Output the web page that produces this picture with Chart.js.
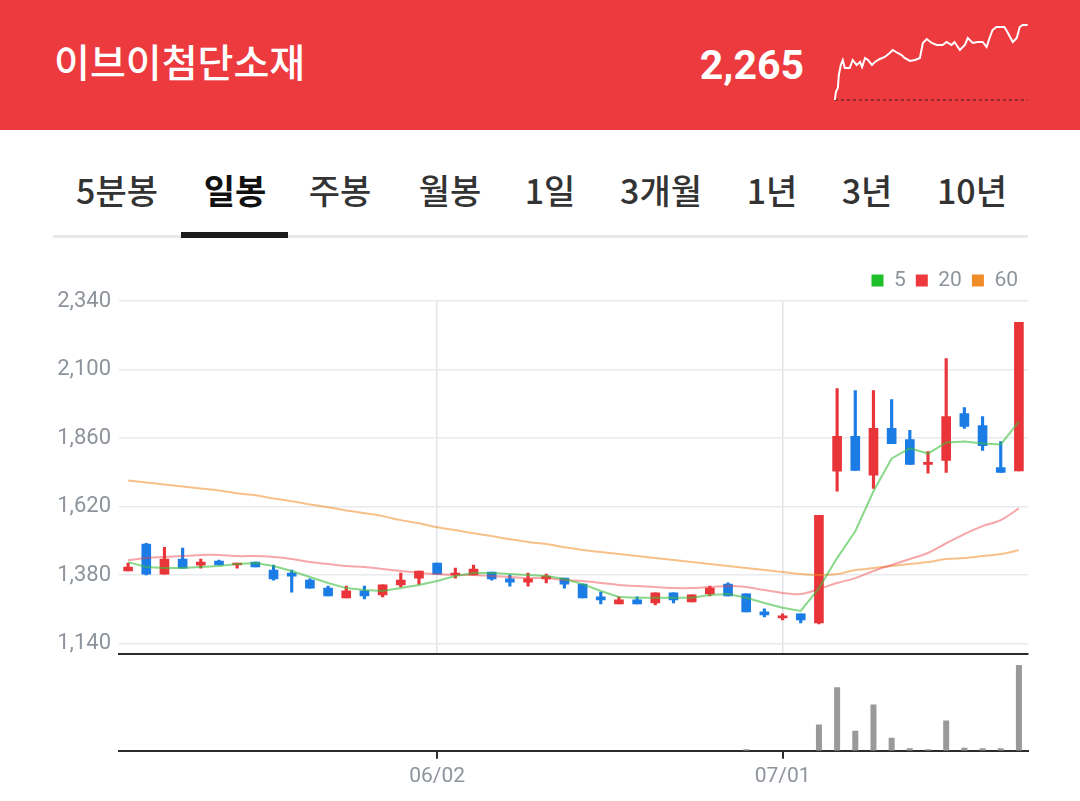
<!DOCTYPE html>
<html lang="ko">
<head>
  <meta charset="UTF-8" />
  <title>이브이첨단소재 일봉</title>
  <style>
    body {
      margin: 0;
      width: 1080px;
      height: 801px;
      background: #fff;
      font-family: "Noto Sans CJK KR", "Noto Sans", sans-serif;
      overflow: hidden;
      position: relative;
    }
    #header {
      position: absolute;
      left: 0; top: 0;
      width: 1080px; height: 130px;
      background: #ec3a3e;
    }
    #name {
      position: absolute;
      left: 54px; top: 60px;
      transform: translateY(-50%);
      color: #fff;
      font-size: 39px;
      font-weight: 500;
    }
    #price {
      position: absolute;
      right: 276px; top: 65px;
      transform: translateY(-50%);
      color: #fff;
      font-family: Roboto, sans-serif;
      font-size: 41px;
      font-weight: 700;
    }
    #sparkBox {
      position: absolute;
      left: 825px; top: 15px;
      width: 213px; height: 95px;
    }
    .tab {
      position: absolute;
      top: 189px;
      transform: translate(-50%, -50%);
      font-size: 34px;
      font-weight: 500;
      color: #333;
      white-space: nowrap;
    }
    .tab.on { color: #111; font-weight: 700; }
    #tabLine {
      position: absolute;
      left: 53px; top: 235px;
      width: 975px; height: 3px;
      background: #e8e8e8;
    }
    #tabBar {
      position: absolute;
      left: 181px; top: 232px;
      width: 107px; height: 6px;
      background: #1c1c1c;
    }
    #priceBox {
      position: absolute;
      left: 0; top: 260px;
      width: 1080px; height: 415px;
    }
    #volBox {
      position: absolute;
      left: 0; top: 652px;
      width: 1080px; height: 142px;
    }
  </style>
</head>
<body>
  <div id="header">
    <div id="name">이브이첨단소재</div>
    <div id="price">2,265</div>
    <div id="sparkBox"><canvas id="spark"></canvas></div>
  </div>

  <div class="tab" style="left:117px">5분봉</div>
  <div class="tab on" style="left:235px">일봉</div>
  <div class="tab" style="left:340px">주봉</div>
  <div class="tab" style="left:450px">월봉</div>
  <div class="tab" style="left:550px">1일</div>
  <div class="tab" style="left:661px">3개월</div>
  <div class="tab" style="left:772px">1년</div>
  <div class="tab" style="left:867px">3년</div>
  <div class="tab" style="left:972px">10년</div>
  <div id="tabLine"></div>
  <div id="tabBar"></div>

  <div id="priceBox"><canvas id="priceChart"></canvas></div>
  <div id="volBox"><canvas id="volChart"></canvas></div>

  <script src="https://cdn.jsdelivr.net/npm/chart.js"></script>
  <script>
    // daily candles, 2025-05-08 .. 2025-07-18
    const dates = [
      "05/08","05/09","05/12","05/13","05/14","05/15","05/16","05/19","05/20","05/21",
      "05/22","05/23","05/26","05/27","05/28","05/29","05/30","06/02","06/04","06/05",
      "06/09","06/10","06/11","06/12","06/13","06/16","06/17","06/18","06/19","06/20",
      "06/23","06/24","06/25","06/26","06/27","06/30","07/01","07/02","07/03","07/04",
      "07/07","07/08","07/09","07/10","07/11","07/14","07/15","07/16","07/17","07/18"
    ];
    const opens = [
      1395,1489,1384,1437,1415,1430,1416,1426,1398,1388,
      1363,1335,1301,1325,1311,1346,1370,1423,1381,1381,
      1391,1367,1356,1367,1370,1349,1304,1280,1294,1283,
      1318,1287,1315,1349,1315,1252,1231,1245,1213,1744,
      1866,1730,1894,1855,1768,1782,1946,1904,1757,1745
    ];
    const highs = [
      1423,1492,1478,1475,1437,1433,1423,1426,1416,1398,
      1367,1342,1342,1342,1346,1388,1395,1423,1405,1416,
      1391,1381,1388,1384,1370,1349,1321,1304,1304,1318,
      1318,1311,1342,1353,1315,1262,1245,1245,1590,2033,
      2026,2026,1995,1887,1813,2138,1967,1935,1848,2265
    ];
    const lows = [
      1395,1381,1384,1405,1405,1416,1405,1409,1363,1321,
      1335,1308,1301,1297,1304,1339,1349,1384,1370,1381,
      1363,1342,1342,1353,1335,1301,1280,1280,1280,1276,
      1283,1287,1308,1308,1252,1234,1224,1213,1210,1674,
      1747,1684,1841,1768,1737,1740,1894,1817,1740,1745
    ];
    const closes = [
      1409,1384,1437,1405,1426,1416,1423,1409,1367,1377,
      1335,1308,1325,1308,1346,1363,1395,1384,1388,1402,
      1367,1356,1367,1377,1349,1301,1294,1294,1280,1318,
      1294,1311,1335,1308,1252,1241,1238,1224,1590,1866,
      1747,1894,1841,1768,1775,1935,1901,1834,1740,2265
    ];
    // moving averages as drawn
    const ma5 = [
      1426,1409,1405,1405,1409,1412,1419,1423,1412,1395,
      1374,1353,1335,1328,1325,1335,1346,1360,1377,1388,
      1388,1384,1381,1377,1367,1349,1325,1304,1301,1301,
      1301,1301,1311,1314,1301,1283,1266,1255,1335,1440,
      1534,1674,1789,1824,1806,1845,1848,1841,1838,1918
    ];
    const ma20 = [
      1433,1440,1444,1447,1451,1451,1447,1447,1444,1437,
      1426,1419,1412,1409,1402,1395,1388,1384,1381,1381,
      1377,1374,1370,1370,1363,1360,1353,1346,1342,1339,
      1335,1335,1339,1342,1339,1328,1318,1314,1332,1353,
      1370,1395,1416,1437,1458,1492,1524,1552,1573,1614
    ];
    const ma60 = [
      1712,1705,1698,1691,1684,1677,1667,1660,1649,1639,
      1628,1618,1607,1597,1587,1573,1562,1548,1538,1527,
      1517,1506,1496,1489,1478,1468,1461,1454,1447,1440,
      1433,1426,1419,1412,1405,1398,1391,1384,1381,1384,
      1398,1405,1412,1419,1426,1437,1440,1447,1454,1468
    ];
    // volume (thousand shares); days with no visible bar read as 0
    const volumes = [
      0,0,0,0,0,0,0,0,0,0,
      0,0,0,0,0,0,0,0,0,0,
      0,0,0,0,0,0,0,0,0,0,
      0,0,0,0,300,0,0,0,5200,12600,
      4000,9200,2600,500,300,6000,600,500,500,17000
    ];
    const priceTicks = [1140, 1380, 1620, 1860, 2100, 2340];
    const markedDays = ["06/02", "07/01"];
    const maNames = ["5", "20", "60"];

    // intraday line in the header (minutes from open, price)
    const sparkMinutes = [0,2,6,8,12,16,20,30,36,44,51,55,61,67,75,81,91,101,111,117,127,135,141,152,162,172,178,186,196,206,218,226,236,242,253,263,269,279,289,299,307,313,319,327,343,349,360,368,374,380,390];
    const sparkPrices = [1740,1796,1824,1915,1985,2020,1964,1964,2020,1985,2006,1971,2034,2020,1985,2006,2027,2041,2069,2090,2069,2055,2034,2013,2020,2034,2139,2167,2139,2125,2125,2146,2125,2146,2090,2125,2174,2139,2146,2146,2111,2174,2230,2251,2251,2216,2146,2174,2251,2265,2265];
    const prevClose = 1740;

    const UP = '#e9353a', DOWN = '#1b7ce6';
    const AXIS_GREY = '#8e949c';
    const maLine = ['rgba(60,190,60,0.6)', 'rgba(238,60,66,0.45)', 'rgba(240,140,40,0.55)'];
    const maBox = ['#1fbf2a', '#ee3a3e', '#f08c28'];
    const isUp = i => closes[i] >= opens[i];
    const candleColor = ctx => isUp(ctx.dataIndex) ? UP : DOWN;

    new Chart(document.getElementById('priceChart'), {
      data: {
        labels: dates,
        datasets: [
          { type: 'line', label: maNames[0], data: ma5, borderColor: maLine[0], borderWidth: 2, pointRadius: 0, tension: 0, order: 0 },
          { type: 'line', label: maNames[1], data: ma20, borderColor: maLine[1], borderWidth: 2, pointRadius: 0, tension: 0.3, order: 0 },
          { type: 'line', label: maNames[2], data: ma60, borderColor: maLine[2], borderWidth: 2, pointRadius: 0, tension: 0.3, order: 0 },
          { type: 'bar', label: 'wick', data: lows.map((l, i) => [l, highs[i]]),
            backgroundColor: candleColor, barThickness: 2.5, grouped: false, order: 2 },
          { type: 'bar', label: 'body', data: opens.map((o, i) => [o, closes[i]]),
            backgroundColor: candleColor, barThickness: 9, minBarLength: 2, grouped: false, order: 1 }
        ]
      },
      options: {
        responsive: true,
        maintainAspectRatio: false,
        animation: false,
        layout: { padding: { left: 0, right: 52, top: 0, bottom: 1 } },
        plugins: {
          tooltip: { enabled: false },
          legend: {
            position: 'top',
            align: 'end',
            labels: {
              boxWidth: 12, boxHeight: 12, padding: 10,
              color: AXIS_GREY,
              font: { family: 'Roboto', size: 21 },
              generateLabels: () => maNames.map((n, i) => ({
                text: n, fillStyle: maBox[i], strokeStyle: maBox[i], lineWidth: 0,
                hidden: false, datasetIndex: i, fontColor: AXIS_GREY
              }))
            }
          }
        },
        scales: {
          x: {
            offset: true,
            ticks: { display: false },
            grid: {
              offset: false,
              drawTicks: false,
              color: ctx => markedDays.includes(dates[ctx.index]) ? '#e2e4e8' : 'rgba(0,0,0,0)',
              lineWidth: 1.5
            },
            border: { display: true, color: '#2b2b2b', width: 2 },
            afterFit: s => { s.height = 0; }
          },
          y: {
            min: 1105,
            max: 2340,
            afterBuildTicks: s => { s.ticks = priceTicks.map(v => ({ value: v })); },
            afterFit: s => { s.width = 119; },
            ticks: {
              color: AXIS_GREY,
              padding: 8,
              font: { family: 'Roboto', size: 22 },
              callback: v => v.toLocaleString('en-US')
            },
            grid: { color: '#e8eaee', lineWidth: 1.5, drawTicks: false },
            border: { display: false }
          }
        }
      }
    });

    new Chart(document.getElementById('volChart'), {
      type: 'bar',
      data: {
        labels: dates,
        datasets: [{ data: volumes, backgroundColor: '#999999', barThickness: 6, inflateAmount: 0 }]
      },
      options: {
        responsive: true,
        maintainAspectRatio: false,
        animation: false,
        layout: { padding: { left: 0, right: 52, top: 1, bottom: 0 } },
        plugins: { legend: { display: false }, tooltip: { enabled: false } },
        scales: {
          x: {
            offset: true,
            ticks: {
              autoSkip: false,
              maxRotation: 0,
              color: AXIS_GREY,
              padding: 5,
              font: { family: 'Roboto', size: 21 },
              callback: (v, i) => markedDays.includes(dates[i]) ? dates[i] : ''
            },
            grid: {
              offset: false,
              drawOnChartArea: false,
              tickLength: 8,
              lineWidth: 2,
              color: ctx => markedDays.includes(dates[ctx.index]) ? '#2b2b2b' : 'rgba(0,0,0,0)'
            },
            border: { display: true, color: '#2b2b2b', width: 2 }
          },
          y: {
            min: 0,
            max: 19400,
            afterFit: s => { s.width = 119; },
            ticks: { display: false },
            grid: { display: false },
            border: { display: false }
          }
        }
      }
    });

    new Chart(document.getElementById('spark'), {
      type: 'line',
      data: {
        datasets: [
          { data: sparkMinutes.map((m, i) => ({ x: m, y: sparkPrices[i] })),
            borderColor: '#ffffff', borderWidth: 2, pointRadius: 0, tension: 0 },
          { data: [{ x: 0, y: prevClose }, { x: 390, y: prevClose }],
            borderColor: 'rgba(70,30,30,0.7)', borderWidth: 1.5, borderDash: [3, 3], pointRadius: 0 }
        ]
      },
      options: {
        responsive: true,
        maintainAspectRatio: false,
        animation: false,
        layout: { padding: 0 },
        plugins: { legend: { display: false }, tooltip: { enabled: false } },
        scales: {
          x: { type: 'linear', display: false, min: -20, max: 411 },
          y: { display: false, min: 1670, max: 2335 }
        }
      }
    });
  </script>
</body>
</html>
